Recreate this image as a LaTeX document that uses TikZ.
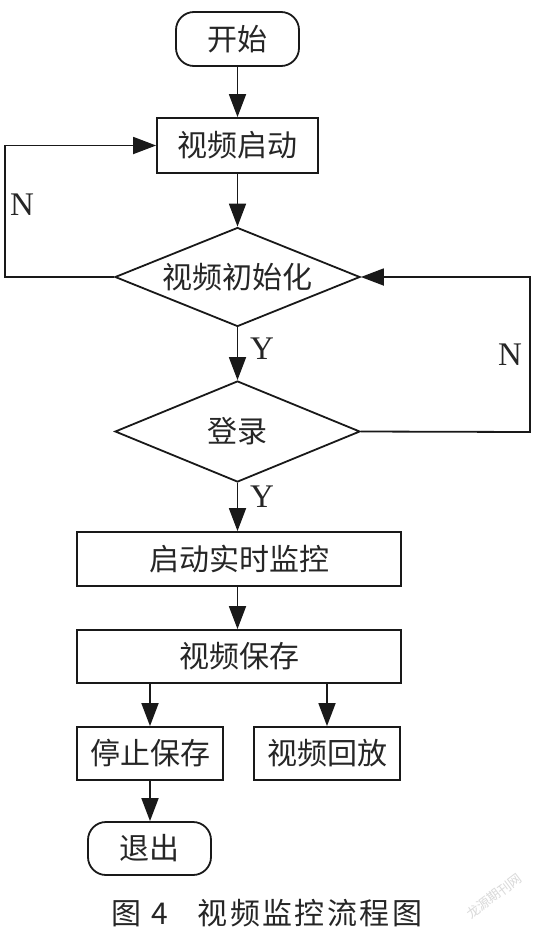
\documentclass[tikz,border=0pt]{standalone}
\usepackage{fontspec}
\setmainfont{Liberation Serif}
\newfontfamily\cjk{Noto Sans CJK SC}
\newfontfamily\capfont[LetterSpace=8]{Noto Sans CJK SC}
\usetikzlibrary{shapes.geometric,arrows.meta}
\begin{document}
\begin{tikzpicture}[x=1pt,y=-1pt,
  every node/.style={inner sep=0pt},
  line/.style={line width=1.8pt, draw=black!90},
  arr/.style={line, -{Triangle[length=23pt,width=17pt]}},
  txt/.style={font=\cjk\fontsize{30}{32}\selectfont, text=black!85},
  procbox/.style={line, txt, rectangle},
  termbox/.style={line, txt, rectangle, rounded corners=18pt},
  decbox/.style={line, txt, diamond, aspect=2.5},
  lbl/.style={font=\fontsize{33}{35}\selectfont, text=black!85}
]
\useasboundingbox (0,0) rectangle (537,932);
\fill[white] (0,0) rectangle (537,932);

\node[termbox, minimum width=123pt, minimum height=54pt] (start) at (237.5,39) {开始};
\node[procbox, minimum width=161pt, minimum height=55pt] (vstart) at (237.5,145.5) {视频启动};
\node[decbox, minimum width=245pt, minimum height=99pt] (init) at (237.5,277) {视频初始化};
\node[decbox, minimum width=245pt, minimum height=101pt] (login) at (237.5,431.5) {登录};
\node[procbox, minimum width=324pt, minimum height=54pt] (monitor) at (239,559) {启动实时监控};
\node[procbox, minimum width=324pt, minimum height=53pt] (save) at (239,656.5) {视频保存};
\node[procbox, minimum width=146pt, minimum height=53pt] (stop) at (150,753.5) {停止保存};
\node[procbox, minimum width=146pt, minimum height=53pt] (play) at (327,753.5) {视频回放};
\node[termbox, minimum width=123pt, minimum height=53pt] (exit) at (149.5,848.5) {退出};

\coordinate (lcorner) at (5,277);
\coordinate (rcorner) at (530,432);

\draw[arr] (start) -- (vstart);
\draw[arr] (vstart) -- (init);
\draw[arr] (init.south) -- (login.north);
\draw[arr] (login.south) -- (login.south |- monitor.north);
\draw[arr] (login.south |- monitor.south) -- (login.south |- save.north);
\draw[arr] (stop.north |- save.south) -- (stop.north);
\draw[arr] (play.north |- save.south) -- (play.north);
\draw[arr] (stop.south) -- (stop.south |- exit.north);
\draw[arr] (init.west) -- (lcorner) |- (vstart.west);
\draw[arr] (login.east) -- (rcorner) |- (init.east);

\node[lbl] (n1) at (22,205) {N};
\node[lbl] (n2) at (510,355) {N};
\node[lbl] (y1) at (262,349) {Y};
\node[lbl] (y2) at (262,497) {Y};

\node[font=\capfont\fontsize{30}{32}\selectfont, text=black!85] (cap) at (267,913) {图 4\hspace{30pt}视频监控流程图};
\node[font=\cjk\fontsize{13}{14}\selectfont, text=black!15, rotate=37] (wm) at (494,896) {龙源期刊网};
\end{tikzpicture}
\end{document}
